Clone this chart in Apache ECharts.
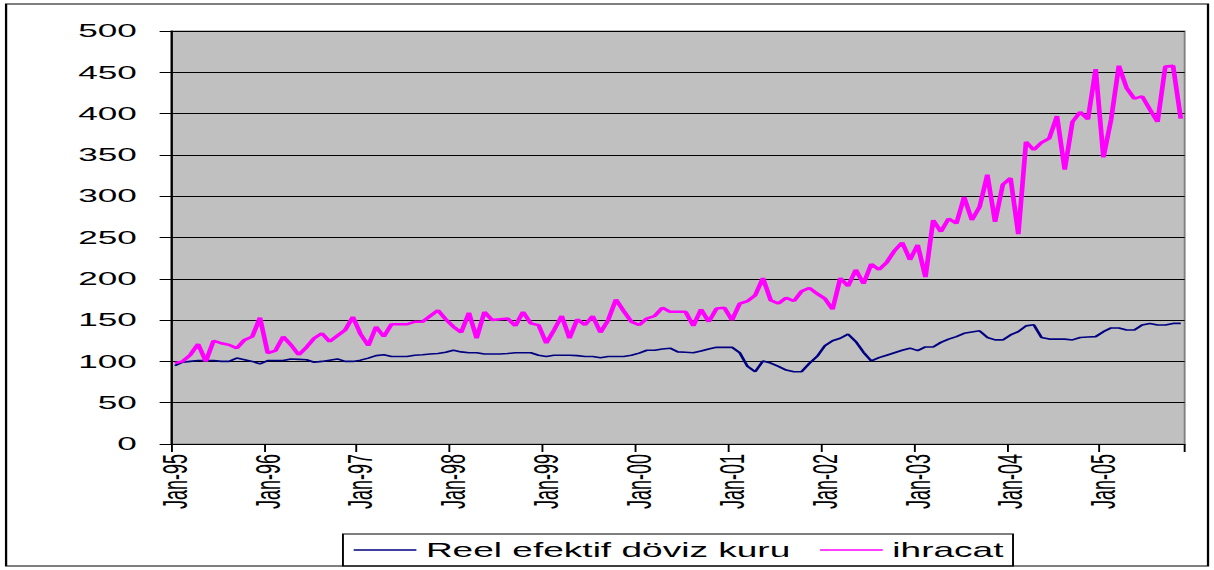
<!DOCTYPE html>
<html>
<head>
<meta charset="utf-8">
<script src="https://cdn.jsdelivr.net/npm/echarts@6/dist/echarts.min.js"></script>
<style>
html,body{margin:0;padding:0;background:#fff;overflow:hidden;}
#wrap{width:1214px;height:570px;overflow:hidden;position:relative;}
#chart{width:639px;height:570px;transform:scaleX(1.9);transform-origin:0 0;}
</style>
</head>
<body>
<div id="wrap"><div id="chart"></div></div>
<script>
const categories = [
"Jan-95","Feb-95","Mar-95","Apr-95","May-95","Jun-95","Jul-95","Aug-95","Sep-95","Oct-95","Nov-95","Dec-95",
"Jan-96","Feb-96","Mar-96","Apr-96","May-96","Jun-96","Jul-96","Aug-96","Sep-96","Oct-96","Nov-96","Dec-96",
"Jan-97","Feb-97","Mar-97","Apr-97","May-97","Jun-97","Jul-97","Aug-97","Sep-97","Oct-97","Nov-97","Dec-97",
"Jan-98","Feb-98","Mar-98","Apr-98","May-98","Jun-98","Jul-98","Aug-98","Sep-98","Oct-98","Nov-98","Dec-98",
"Jan-99","Feb-99","Mar-99","Apr-99","May-99","Jun-99","Jul-99","Aug-99","Sep-99","Oct-99","Nov-99","Dec-99",
"Jan-00","Feb-00","Mar-00","Apr-00","May-00","Jun-00","Jul-00","Aug-00","Sep-00","Oct-00","Nov-00","Dec-00",
"Jan-01","Feb-01","Mar-01","Apr-01","May-01","Jun-01","Jul-01","Aug-01","Sep-01","Oct-01","Nov-01","Dec-01",
"Jan-02","Feb-02","Mar-02","Apr-02","May-02","Jun-02","Jul-02","Aug-02","Sep-02","Oct-02","Nov-02","Dec-02",
"Jan-03","Feb-03","Mar-03","Apr-03","May-03","Jun-03","Jul-03","Aug-03","Sep-03","Oct-03","Nov-03","Dec-03",
"Jan-04","Feb-04","Mar-04","Apr-04","May-04","Jun-04","Jul-04","Aug-04","Sep-04","Oct-04","Nov-04","Dec-04",
"Jan-05","Feb-05","Mar-05","Apr-05","May-05","Jun-05","Jul-05","Aug-05","Sep-05","Oct-05","Nov-05"
];

const reelEfektifDovizKuru = [
95,99,100,101,101,101,100,100,104,102,100,97,
101,101,101,103,102.5,102,99,100,101.5,103,100,100,
101.5,104,107,108,106,106,106,107.5,108,109,109.5,111,
113.5,111.5,110.5,110.5,109,109,109,109.5,110.5,110.5,110.5,107.5,
106,107.5,107.5,107.5,107,106,106,104.5,106,106,106,107.5,
110,113.5,113.5,115,116,111.5,111,110.5,112.5,115,117,117,
117,110.5,94,87.5,100.5,98,94,89.5,87.5,87.5,97.5,106,
119,125,128,133,124,111,100.5,104.5,107.5,110.5,113.5,116,
113,117.5,117.5,123,127,130,134,135.5,137,129,126,126,
132,136,143,144.5,129,127,127,127,126,129,129.5,130,
136,140.5,140.5,138,138,144,146,144,144,146,146
];

const ihracat = [
98,100,108,121,100,125,122,120,116,126,130,153,
110,113,130,120,108,117,128,134,124,131,138,154,
133,119,142,130,145,145,145,148,148,155,162,151,
142,135,159,128,160,150,151,152,143,160,146,144,
122,138,155,128,151,144,155,135,150,175,161,148,
144,152,155,165,160,160,160,143,163,148,164,165,
150,170,173,180,201,174,170,177,173,185,189,182,
176,163,201,191,211,194,218,211,220,234,244,223,
241,202,271,257,273,267,299,271,287,326,269,314,
322,254,366,356,365,370,397,332,390,402,393,454,
347,393,458,431,418,421,405,390,457,458,394
];

const yTicks = {min: 0, max: 500, interval: 50};

const FONT = '"Liberation Sans", Arial, sans-serif';
const chart = echarts.init(document.getElementById('chart'), null, {renderer: 'svg'});
chart.setOption({
  animation: false,
  backgroundColor: '#ffffff',
  textStyle: {fontFamily: FONT},
  graphic: [{
    type: 'rect', silent: true, z: 0,
    shape: {x: 3.2, y: 4, width: 632.6, height: 562},
    style: {fill: 'none', stroke: '#000', lineWidth: 1.2}
  }],
  grid: {
    left: 90, right: 15.5, top: 31, bottom: 126,
    show: true, backgroundColor: '#c0c0c0', borderColor: '#808080', borderWidth: 1
  },
  legend: {
    left: 180.5, top: 534,
    padding: [5, 5, 5, 5],
    borderColor: '#000', borderWidth: 1,
    itemWidth: 33, itemHeight: 14, itemGap: 15,
    itemStyle: {opacity: 0},
    lineStyle: {width: 1.3},
    textStyle: {fontFamily: FONT, fontSize: 19.5, color: '#000', lineHeight: 22},
    data: ['Reel efektif döviz kuru', 'ihracat']
  },
  xAxis: {
    type: 'category',
    data: categories,
    boundaryGap: true,
    axisLine: {show: true, lineStyle: {color: '#000', width: 1}},
    axisTick: {show: true, interval: 11, length: 8, lineStyle: {color: '#000', width: 1}},
    axisLabel: {interval: 11, rotate: 90, margin: 10, fontSize: 18, color: '#000', fontFamily: FONT},
    splitLine: {show: false}
  },
  yAxis: {
    type: 'value',
    min: yTicks.min, max: yTicks.max, interval: yTicks.interval,
    axisLine: {show: true, lineStyle: {color: '#000', width: 1}},
    axisTick: {show: true, length: 6, lineStyle: {color: '#000', width: 1}},
    axisLabel: {margin: 18, fontSize: 18.5, color: '#000', fontFamily: FONT},
    splitLine: {show: true, lineStyle: {color: '#000', width: 1}}
  },
  series: [
    {
      name: 'Reel efektif döviz kuru', type: 'line', data: reelEfektifDovizKuru,
      symbol: 'none', smooth: false,
      lineStyle: {color: '#000080', width: 1.6}, itemStyle: {color: '#000080'}
    },
    {
      name: 'ihracat', type: 'line', data: ihracat,
      symbol: 'none', smooth: false,
      lineStyle: {color: '#ff00ff', width: 2.5}, itemStyle: {color: '#ff00ff'}
    }
  ]
});
</script>
</body>
</html>
